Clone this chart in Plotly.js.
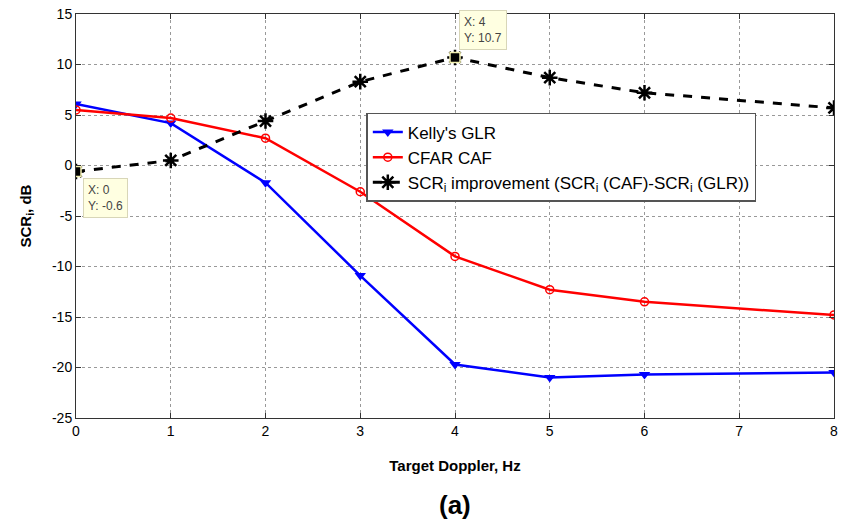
<!DOCTYPE html>
<html>
<head>
<meta charset="utf-8">
<script src="https://cdn.plot.ly/plotly-3.0.1.min.js"></script>
<style>html,body{margin:0;padding:0;background:#fff;}#chart{width:843px;height:526px;}</style>
</head>
<body>
<div id="chart"></div>
<script>
const doppler = [0, 1, 2, 3, 4, 5, 6, 8];
const kellyGLR = [6.1, 4.2, -1.7, -10.9, -19.7, -21.0, -20.7, -20.5];
const cfarCAF = [5.5, 4.7, 2.7, -2.6, -9.0, -12.3, -13.5, -14.8];
const improvement = [-0.6, 0.5, 4.4, 8.3, 10.7, 8.7, 7.2, 5.7];
const yTicks = [-25, -20, -15, -10, -5, 0, 5, 10, 15];
const xTicks = [0, 1, 2, 3, 4, 5, 6, 7, 8];
const tipIdx = [0, 4];

const tipX = tipIdx.map(i => doppler[i]);
const tipY = tipIdx.map(i => improvement[i]);

const traces = [
  {x: doppler, y: kellyGLR, name: "Kelly's GLR", mode: 'lines+markers',
   line: {color: '#0000ff', width: 2.5},
   marker: {symbol: 'triangle-down', size: 10, color: '#0000ff'}},
  {x: doppler, y: cfarCAF, name: 'CFAR CAF', mode: 'lines+markers',
   line: {color: '#ff0000', width: 2.5},
   marker: {symbol: 'circle-open', size: 8, color: '#ff0000', line: {width: 1.5}}},
  {x: doppler, y: improvement, name: 'SCR<sub>i</sub> improvement (SCR<sub>i</sub> (CAF)-SCR<sub>i</sub> (GLR))',
   mode: 'lines+markers',
   line: {color: '#000000', width: 3, dash: 'dash'},
   marker: {symbol: 'asterisk-open', size: 13, color: '#000000', line: {width: 2.5, color: '#000000'}}},
  {x: tipX, y: tipY, mode: 'markers', showlegend: false, hoverinfo: 'skip',
   marker: {symbol: 'square', size: 10, color: '#000000', line: {width: 1.5, color: '#f2f0b0'}}}
];

const annotations = [
  {x: tipX[0], y: tipY[0], xref: 'x', yref: 'y', showarrow: false,
   xanchor: 'left', yanchor: 'top', xshift: 7, yshift: -6,
   text: 'X: ' + tipX[0] + '<br>Y: ' + tipY[0], align: 'left',
   font: {family: 'Liberation Sans, Arial', size: 12, color: '#444'},
   bgcolor: '#ffffe1', bordercolor: '#d8d6b8', borderwidth: 1, borderpad: 4},
  {x: tipX[1], y: tipY[1], xref: 'x', yref: 'y', showarrow: false,
   xanchor: 'left', yanchor: 'bottom', xshift: 4, yshift: 7,
   text: 'X: ' + tipX[1] + '<br>Y: ' + tipY[1], align: 'left',
   font: {family: 'Liberation Sans, Arial', size: 12, color: '#444'},
   bgcolor: '#ffffe1', bordercolor: '#d8d6b8', borderwidth: 1, borderpad: 4},
  {x: 0.5, y: 0, xref: 'paper', yref: 'paper', yanchor: 'middle', yshift: -87,
   showarrow: false, text: '<b>(a)</b>',
   font: {family: 'Liberation Sans, Arial', size: 26, color: '#000'}}
];

const layout = {
  width: 843, height: 526,
  margin: {l: 76, r: 9, t: 14, b: 108},
  paper_bgcolor: '#ffffff', plot_bgcolor: '#ffffff',
  showlegend: true,
  legend: {x: 0.383, y: 0.755, xanchor: 'left', yanchor: 'top',
    bgcolor: '#ffffff', bordercolor: '#555', borderwidth: 1.5,
    font: {family: 'Liberation Sans, Arial', size: 17, color: '#000'},
    tracegroupgap: 0},
  xaxis: {range: [0, 8], tickvals: xTicks, ticktext: xTicks.map(String),
    showgrid: true, gridcolor: '#999', griddash: 'dot', gridwidth: 1,
    zeroline: false, showline: true, linecolor: '#333', linewidth: 1, mirror: 'ticks',
    ticks: 'inside', ticklen: 5, tickcolor: '#333',
    tickfont: {family: 'Liberation Sans, Arial', size: 14, color: '#000'},
    title: {text: '<b>Target Doppler, Hz</b>', standoff: 22,
      font: {family: 'Liberation Sans, Arial', size: 15, color: '#000'}}},
  yaxis: {range: [-25, 15], tickvals: yTicks, ticktext: yTicks.map(String),
    showgrid: true, gridcolor: '#999', griddash: 'dot', gridwidth: 1,
    zeroline: false, showline: true, linecolor: '#333', linewidth: 1, mirror: 'ticks',
    ticks: 'inside', ticklen: 5, tickcolor: '#333',
    tickfont: {family: 'Liberation Sans, Arial', size: 14, color: '#000'},
    title: {text: '<b>SCR<sub>i</sub>, dB</b>', standoff: 16,
      font: {family: 'Liberation Sans, Arial', size: 15, color: '#000'}}},
  annotations: annotations
};

Plotly.newPlot('chart', traces, layout, {displayModeBar: false, staticPlot: true});
</script>
</body>
</html>
